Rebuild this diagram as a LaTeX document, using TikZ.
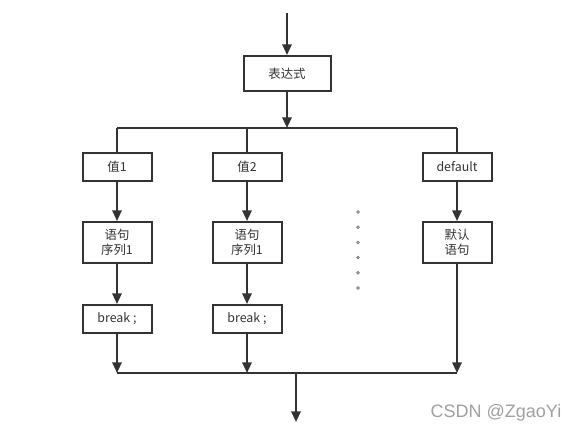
\documentclass[tikz,border=0pt]{standalone}
\usepackage{fontspec}
\setmainfont{Liberation Sans}
\newfontfamily\cjk{Noto Sans CJK SC}
\usetikzlibrary{arrows.meta, positioning}
\definecolor{ink}{HTML}{333333}
\definecolor{wmgray}{HTML}{A0A0A0}
\tikzset{
    box/.style={draw=ink, line width=1.5pt, rectangle, minimum height=21pt, minimum width=51.75pt, align=center, font=\cjk\fontsize{9.3}{11.5}\selectfont, text=ink, inner sep=1pt},
    tall/.style={box, minimum height=30.75pt},
    flow/.style={draw=ink, line width=1.5pt, -{Triangle[length=8pt, width=7pt]}},
    bus/.style={draw=ink, line width=1.5pt}
}
\begin{document}
\begin{tikzpicture}[x=0.75pt, y=-0.75pt]
    \useasboundingbox (0,0) rectangle (580,434);
    % top of the switch
    \coordinate (in) at (287,13);
    \node[box, minimum width=65.25pt, minimum height=26.25pt] (expr) at (287,73.5) {表达式};
    \coordinate (top) at (287,128);
    \coordinate (tl) at (117,128);
    \coordinate (tr) at (457,128);
    \draw[flow] (in) -- (expr);
    \draw[flow] (expr) -- (top);
    \draw[bus] (tl) -- (tr);
    % the cases
    \node[box] (v1) at (117,167) {值1};
    \node[box] (v2) at (247,167) {值2};
    \node[box] (vd) at (457,167) {default};
    \node[tall] (s1) at (117,242.5) {语句\\序列1};
    \node[tall] (s2) at (247,242.5) {语句\\序列1};
    \node[tall] (sd) at (457,242.5) {默认\\语句};
    \node[box] (b1) at (117,319) {break ;};
    \node[box] (b2) at (247,319) {break ;};
    \foreach \n in {v1,v2,vd}
        \draw[bus] (\n.north |- tl) -- (\n);
    \draw[flow] (v1) -- (s1);
    \draw[flow] (v2) -- (s2);
    \draw[flow] (vd) -- (sd);
    \draw[flow] (s1) -- (b1);
    \draw[flow] (s2) -- (b2);
    % dots between the columns
    \foreach \i in {0,...,5}
        \fill[wmgray, draw=gray] (358,212+15.2*\i) circle (1.5);
    % join at the bottom
    \coordinate (bl) at (117,373);
    \coordinate (br) at (457,373);
    \coordinate (mid) at (296,373);
    \coordinate (out) at (296,422);
    \draw[flow] (b1) -- (b1 |- bl);
    \draw[flow] (b2) -- (b2 |- bl);
    \draw[flow] (sd) -- (sd |- br);
    \draw[bus] (bl) -- (br);
    \draw[flow] (mid) -- (out);
    \node[text=wmgray, font=\fontsize{13.5}{15}\selectfont, anchor=east] (wm) at (566,413) {CSDN @ZgaoYi};
\end{tikzpicture}
\end{document}
